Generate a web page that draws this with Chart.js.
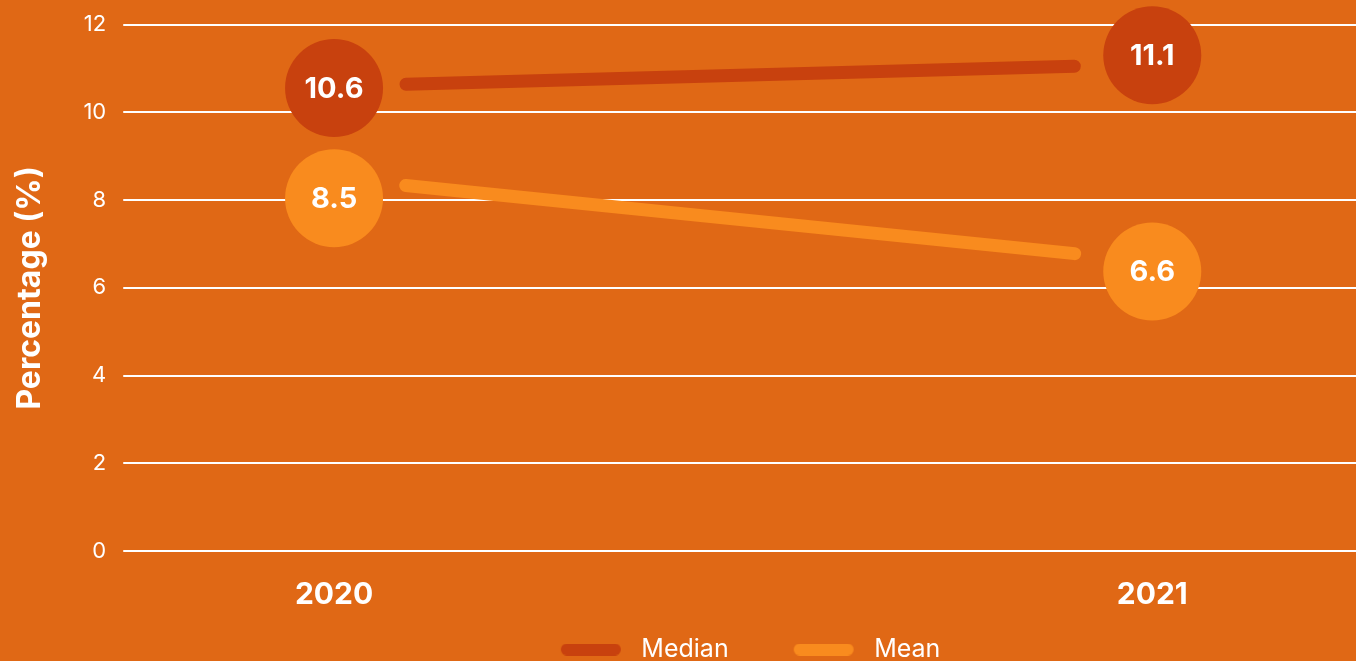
<!DOCTYPE html>
<html>
<head>
<meta charset="utf-8">
<script src="https://cdn.jsdelivr.net/npm/chart.js@4.4.1/dist/chart.umd.min.js"></script>
<style>
  html, body { margin: 0; padding: 0; background: #E06815; overflow: hidden; }
  #wrap { position: relative; width: 1356px; height: 672px; }
</style>
</head>
<body>
<div id="wrap"><canvas id="chart"></canvas></div>
<script>
const years = [2020, 2021];
const median = [10.6, 11.1];
const mean = [8.5, 6.6];
const yTicks = [0, 2, 4, 6, 8, 10, 12];

const MEDIAN_COLOR = "#C8410E";
const MEAN_COLOR = "#F98B1E";
const FONT = "Inter, 'Open Sans', sans-serif";

// rounded bar used as legend swatch, a bit of empty room on each side
function swatch(color) {
  const c = document.createElement("canvas");
  c.width = 78; c.height = 12;
  const g = c.getContext("2d");
  g.fillStyle = color;
  g.beginPath();
  g.roundRect(10, 0, 60, 12, 6);
  g.fill();
  return c;
}

// circles with value, line drawn between them with a gap
const circleLabels = {
  id: "circleLabels",
  afterDatasetsDraw(chart, args, opts) {
    const ctx = chart.ctx;
    chart.data.datasets.forEach((ds, i) => {
      const pts = chart.getDatasetMeta(i).data;
      const a = pts[0], b = pts[1];
      const dx = b.x - a.x, dy = b.y - a.y;
      const len = Math.hypot(dx, dy);
      const ux = dx / len, uy = dy / len;
      ctx.save();
      ctx.strokeStyle = ds.borderColor;
      ctx.lineWidth = 13;
      ctx.lineCap = "round";
      ctx.beginPath();
      ctx.moveTo(a.x + ux * opts.gapStart, a.y + uy * opts.gapStart);
      ctx.lineTo(b.x - ux * opts.gapEnd, b.y - uy * opts.gapEnd);
      ctx.stroke();

      pts.forEach((p, j) => {
        const cy = p.y + opts.offsets[i][j];
        ctx.beginPath();
        ctx.fillStyle = ds.borderColor;
        ctx.arc(p.x, cy, opts.radius, 0, Math.PI * 2);
        ctx.fill();
        ctx.fillStyle = "#ffffff";
        ctx.font = "bold 29px " + FONT;
        ctx.textAlign = "center";
        ctx.textBaseline = "middle";
        ctx.fillText(ds.data[j].y.toFixed(1), p.x, cy + 1);
      });
      ctx.restore();
    });
  }
};

new Chart(document.getElementById("chart"), {
  type: "line",
  data: {
    datasets: [
      {
        label: "Median",
        data: years.map((y, i) => ({ x: y, y: median[i] })),
        borderColor: MEDIAN_COLOR,
        backgroundColor: MEDIAN_COLOR,
        pointStyle: swatch(MEDIAN_COLOR),
        showLine: false,
        pointRadius: 0
      },
      {
        label: "Mean",
        data: years.map((y, i) => ({ x: y, y: mean[i] })),
        borderColor: MEAN_COLOR,
        backgroundColor: MEAN_COLOR,
        pointStyle: swatch(MEAN_COLOR),
        showLine: false,
        pointRadius: 0
      }
    ]
  },
  options: {
    responsive: true,
    maintainAspectRatio: false,
    animation: false,
    layout: { padding: { top: 9, right: 0, left: 6, bottom: 0 } },
    scales: {
      x: {
        type: "linear",
        min: 2019.757,
        max: 2021.249,
        afterBuildTicks: scale => { scale.ticks = years.map(v => ({ value: v })); },
        grid: { display: false },
        border: { display: false },
        ticks: {
          color: "#ffffff",
          font: { family: FONT, size: 30, weight: "bold", lineHeight: 1 },
          padding: 21,
          callback: v => String(v)
        }
      },
      y: {
        min: 0,
        max: 12,
        afterBuildTicks: scale => { scale.ticks = yTicks.map(v => ({ value: v })); },
        grid: { color: "#ffffff", lineWidth: 2, tickLength: 12, drawTicks: true },
        border: { display: false },
        ticks: {
          color: "#ffffff",
          font: { family: FONT, size: 22, lineHeight: 0.7 },
          padding: 17
        },
        title: {
          display: true,
          text: "Percentage (%)",
          color: "#ffffff",
          font: { family: FONT, size: 32, weight: "bold" },
          padding: { top: 5, bottom: 17 }
        }
      }
    },
    plugins: {
      legend: {
        position: "bottom",
        fullSize: false,
        // empty title with negative padding: keeps the wide item spacing
        // from pushing the legend row down
        title: {
          display: true,
          text: "",
          font: { size: 1 },
          padding: { top: 0, bottom: -50.2 }
        },
        labels: {
          color: "#ffffff",
          font: { family: FONT, size: 25 },
          usePointStyle: true,
          pointStyleWidth: 78,
          boxHeight: 12,
          padding: 55
        }
      },
      tooltip: { enabled: false },
      circleLabels: {
        radius: 49,
        gapStart: 72,
        gapEnd: 78,
        offsets: [[2, -9], [20, 10]]
      }
    }
  },
  plugins: [circleLabels]
});
</script>
</body>
</html>
